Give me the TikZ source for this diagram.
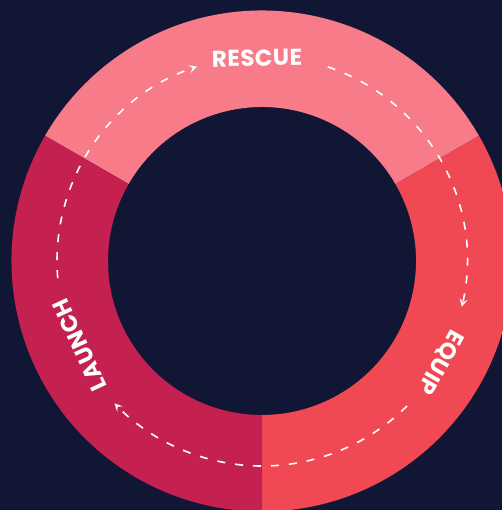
\documentclass[tikz,border=0pt]{standalone}
\usepackage{fontspec}
\setmainfont{Poppins}
\newfontfamily\labelfont[LetterSpace=2]{Poppins}
\usetikzlibrary{arrows.meta}
\definecolor{bgnavy}{HTML}{111635}
\definecolor{segtop}{HTML}{F77B88}
\definecolor{segright}{HTML}{F04954}
\definecolor{segleft}{HTML}{C42151}
\tikzset{
  seglabel/.style={text=white,font=\labelfont\bfseries\fontsize{23}{23}\selectfont,inner sep=0pt,anchor=center},
  flowarc/.style={draw=white,line width=1.6pt,dash pattern=on 8pt off 10pt,
    -{Stealth[length=8pt,width=8pt,inset=3.5pt]}}
}
\begin{document}
\begin{tikzpicture}[x=1pt,y=1pt]
\fill[bgnavy] (0,0) rectangle (502,-510);
\useasboundingbox (0,0) rectangle (502,-510);
\begin{scope}[shift={(262,-261)}]
  \fill[segtop] (30:250.5) arc[start angle=30,end angle=150,radius=250.5]
     -- (150:154) arc[start angle=150,end angle=30,radius=154] -- cycle;
  \fill[segright] (-90:250.5) arc[start angle=-90,end angle=30,radius=250.5]
     -- (30:154) arc[start angle=30,end angle=-90,radius=154] -- cycle;
  \fill[segleft] (150:250.5) arc[start angle=150,end angle=270,radius=250.5]
     -- (270:154) arc[start angle=270,end angle=150,radius=154] -- cycle;
  \coordinate (s1) at (184.8:205);
  \coordinate (s2) at (71.3:205);
  \coordinate (s3) at (-45:205);
  \draw[flowarc] (s1) arc[start angle=184.8,end angle=108.5,radius=205];
  \draw[flowarc] (s2) arc[start angle=71.3,end angle=-12.9,radius=205];
  \draw[flowarc] (s3) arc[start angle=-45,end angle=-136,radius=205];
  \node[seglabel,rotate=1.4] (rescue) at (91.4:203) {RESCUE};
  \node[seglabel,rotate=-119.6] (equip) at (-29.6:205) {EQUIP};
  \node[seglabel,rotate=114.7] (launch) at (-155.3:201) {LAUNCH};
\end{scope}
\end{tikzpicture}
\end{document}
